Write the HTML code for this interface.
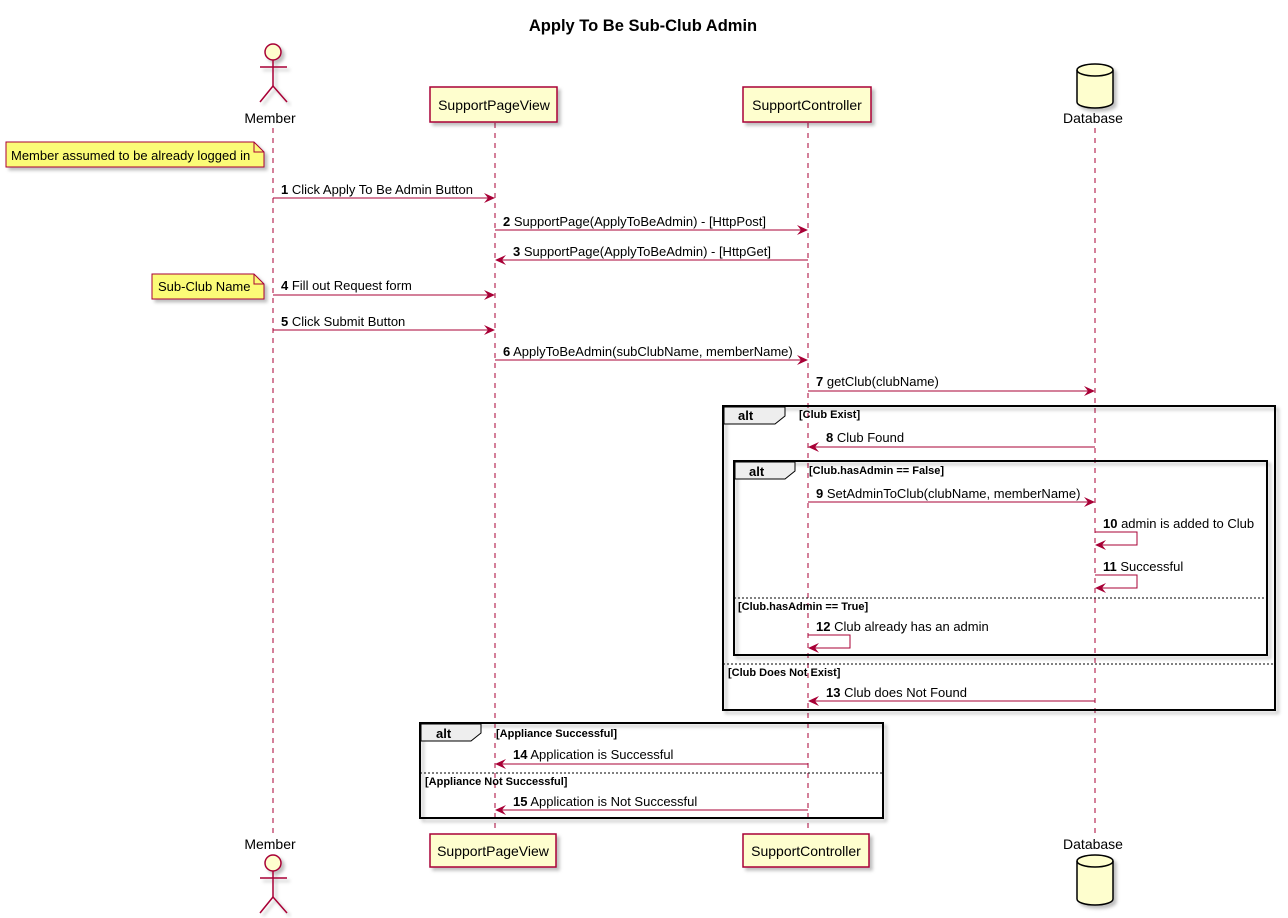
<!DOCTYPE html>
<html><head><meta charset="utf-8"><style>
html,body{margin:0;padding:0;background:#fff;}
svg{display:block;}
text{font-family:"Liberation Sans",sans-serif;}
</style></head><body>
<svg width="1288" height="918" xmlns="http://www.w3.org/2000/svg">
<defs>
<filter id="sh" x="-10%" y="-10%" width="130%" height="140%"><feDropShadow dx="3" dy="3" stdDeviation="1.5" flood-color="#000" flood-opacity="0.25"/></filter>
</defs>
<text x="643" y="31" font-size="16.5" font-weight="bold" text-anchor="middle">Apply To Be Sub-Club Admin</text>

<!-- lifelines -->
<g stroke="#A80036" stroke-width="1" stroke-dasharray="5,5">
<line x1="273" y1="128" x2="273" y2="833"/>
<line x1="495" y1="123" x2="495" y2="833"/>
<line x1="808" y1="123" x2="808" y2="833"/>
<line x1="1095" y1="128" x2="1095" y2="833"/>
</g>

<!-- top participants -->
<g filter="url(#sh)" stroke="#A80036" stroke-width="1.5" fill="none">
<circle cx="273" cy="52" r="8" fill="#FEFECE"/>
<line x1="273" y1="60" x2="273" y2="86"/><line x1="260" y1="67" x2="287" y2="67"/>
<line x1="273" y1="86" x2="260" y2="102"/><line x1="273" y1="86" x2="287" y2="102"/>
</g>
<text x="270" y="123" font-size="14" text-anchor="middle">Member</text>
<rect x="430" y="87" width="127" height="35" fill="#FEFECE" stroke="#A80036" stroke-width="1.5" filter="url(#sh)"/>
<text x="494" y="110" font-size="14" text-anchor="middle">SupportPageView</text>
<rect x="743" y="87" width="128" height="35" fill="#FEFECE" stroke="#A80036" stroke-width="1.5" filter="url(#sh)"/>
<text x="807" y="110" font-size="14" text-anchor="middle">SupportController</text>
<g filter="url(#sh)"><path d="M1077,70 A18,6 0 0 1 1113,70 L1113,102 A18,6 0 0 1 1077,102 Z" fill="#FEFECE" stroke="#000" stroke-width="1.5"/>
<path d="M1077,70 A18,6 0 0 0 1113,70" fill="none" stroke="#000" stroke-width="1.5"/></g>
<text x="1093" y="123" font-size="14" text-anchor="middle">Database</text>

<!-- bottom participants -->
<text x="270" y="849" font-size="14" text-anchor="middle">Member</text>
<g filter="url(#sh)" stroke="#A80036" stroke-width="1.5" fill="none">
<circle cx="273" cy="863" r="8" fill="#FEFECE"/>
<line x1="273" y1="871" x2="273" y2="897"/><line x1="260" y1="878" x2="287" y2="878"/>
<line x1="273" y1="897" x2="260" y2="913"/><line x1="273" y1="897" x2="287" y2="913"/>
</g>
<rect x="430" y="834" width="126" height="33" fill="#FEFECE" stroke="#A80036" stroke-width="1.5" filter="url(#sh)"/>
<text x="493" y="856" font-size="14" text-anchor="middle">SupportPageView</text>
<rect x="743" y="834" width="126" height="33" fill="#FEFECE" stroke="#A80036" stroke-width="1.5" filter="url(#sh)"/>
<text x="806" y="856" font-size="14" text-anchor="middle">SupportController</text>
<text x="1093" y="849" font-size="14" text-anchor="middle">Database</text>
<g filter="url(#sh)"><path d="M1077,861 A18,6 0 0 1 1113,861 L1113,899 A18,6 0 0 1 1077,899 Z" fill="#FEFECE" stroke="#000" stroke-width="1.5"/>
<path d="M1077,861 A18,6 0 0 0 1113,861" fill="none" stroke="#000" stroke-width="1.5"/></g>

<!-- notes -->
<g filter="url(#sh)" stroke="#A80036" stroke-width="1" fill="#FBFB77">
<path d="M6,142 L254,142 L264,152 L264,167 L6,167 Z"/>
<path d="M152,274 L254,274 L264,284 L264,299 L152,299 Z"/>
</g>
<path d="M254,142 L254,152 L264,152" fill="none" stroke="#A80036"/>
<path d="M254,274 L254,284 L264,284" fill="none" stroke="#A80036"/>
<text x="11" y="160" font-size="13">Member assumed to be already logged in</text>
<text x="158" y="291" font-size="13">Sub-Club Name</text>

<!-- alt frames -->
<g fill="none" stroke="#000" stroke-width="2" filter="url(#sh)">
<rect x="723" y="406" width="552" height="304"/>
<rect x="734" y="461" width="533" height="194"/>
<rect x="420" y="723" width="463" height="95"/>
</g>
<g fill="#EEEEEE" stroke="#000" stroke-width="1">
<path d="M724,407 L785,407 L785,416 L775,424 L724,424 Z"/>
<path d="M735,462 L795,462 L795,471 L785,479 L735,479 Z"/>
<path d="M421,724 L481,724 L481,733 L471,741 L421,741 Z"/>
</g>
<g font-size="13" font-weight="bold">
<text x="738" y="420">alt</text><text x="749" y="476">alt</text><text x="436" y="738">alt</text>
</g>
<g font-size="11" font-weight="bold">
<text x="799" y="418">[Club Exist]</text>
<text x="809" y="474">[Club.hasAdmin == False]</text>
<text x="738" y="610">[Club.hasAdmin == True]</text>
<text x="728" y="676">[Club Does Not Exist]</text>
<text x="496" y="737">[Appliance Successful]</text>
<text x="425" y="785">[Appliance Not Successful]</text>
</g>
<g stroke="#000" stroke-width="1" stroke-dasharray="2,2">
<line x1="734" y1="598" x2="1267" y2="598"/>
<line x1="723" y1="664" x2="1275" y2="664"/>
<line x1="420" y1="773" x2="883" y2="773"/>
</g>

<!-- messages -->
<g stroke="#A80036" stroke-width="1" fill="none">
<line x1="273" y1="198" x2="494" y2="198"/>
<line x1="495" y1="230" x2="807" y2="230"/>
<line x1="808" y1="260" x2="496" y2="260"/>
<line x1="273" y1="295" x2="494" y2="295"/>
<line x1="273" y1="330" x2="494" y2="330"/>
<line x1="495" y1="360" x2="807" y2="360"/>
<line x1="808" y1="391" x2="1094" y2="391"/>
<line x1="1095" y1="447" x2="809" y2="447"/>
<line x1="808" y1="502" x2="1094" y2="502"/>
<path d="M1095,532 L1137,532 L1137,545 L1096,545"/>
<path d="M1095,575 L1137,575 L1137,588 L1096,588"/>
<path d="M808,635 L850,635 L850,648 L809,648"/>
<line x1="1095" y1="701" x2="809" y2="701"/>
<line x1="808" y1="764" x2="496" y2="764"/>
<line x1="808" y1="810" x2="496" y2="810"/>
</g>
<g fill="#A80036">
<path d="M495,198 l-11,-5 l4,5 l-4,5 Z"/>
<path d="M808,230 l-11,-5 l4,5 l-4,5 Z"/>
<path d="M495,260 l11,-5 l-4,5 l4,5 Z"/>
<path d="M495,295 l-11,-5 l4,5 l-4,5 Z"/>
<path d="M495,330 l-11,-5 l4,5 l-4,5 Z"/>
<path d="M808,360 l-11,-5 l4,5 l-4,5 Z"/>
<path d="M1095,391 l-11,-5 l4,5 l-4,5 Z"/>
<path d="M808,447 l11,-5 l-4,5 l4,5 Z"/>
<path d="M1095,502 l-11,-5 l4,5 l-4,5 Z"/>
<path d="M1095,545 l11,-5 l-4,5 l4,5 Z"/>
<path d="M1095,588 l11,-5 l-4,5 l4,5 Z"/>
<path d="M808,648 l11,-5 l-4,5 l4,5 Z"/>
<path d="M808,701 l11,-5 l-4,5 l4,5 Z"/>
<path d="M495,764 l11,-5 l-4,5 l4,5 Z"/>
<path d="M495,810 l11,-5 l-4,5 l4,5 Z"/>
</g>
<g font-size="13">
<text x="281" y="194"><tspan font-weight="bold">1</tspan> Click Apply To Be Admin Button</text>
<text x="503" y="226"><tspan font-weight="bold">2</tspan> SupportPage(ApplyToBeAdmin) - [HttpPost]</text>
<text x="513" y="256"><tspan font-weight="bold">3</tspan> SupportPage(ApplyToBeAdmin) - [HttpGet]</text>
<text x="281" y="290"><tspan font-weight="bold">4</tspan> Fill out Request form</text>
<text x="281" y="326"><tspan font-weight="bold">5</tspan> Click Submit Button</text>
<text x="503" y="356"><tspan font-weight="bold">6</tspan> ApplyToBeAdmin(subClubName, memberName)</text>
<text x="816" y="386"><tspan font-weight="bold">7</tspan> getClub(clubName)</text>
<text x="826" y="442"><tspan font-weight="bold">8</tspan> Club Found</text>
<text x="816" y="498"><tspan font-weight="bold">9</tspan> SetAdminToClub(clubName, memberName)</text>
<text x="1103" y="528"><tspan font-weight="bold">10</tspan> admin is added to Club</text>
<text x="1103" y="571"><tspan font-weight="bold">11</tspan> Successful</text>
<text x="816" y="631"><tspan font-weight="bold">12</tspan> Club already has an admin</text>
<text x="826" y="697"><tspan font-weight="bold">13</tspan> Club does Not Found</text>
<text x="513" y="759"><tspan font-weight="bold">14</tspan> Application is Successful</text>
<text x="513" y="806"><tspan font-weight="bold">15</tspan> Application is Not Successful</text>
</g>
</svg>
</body></html>
